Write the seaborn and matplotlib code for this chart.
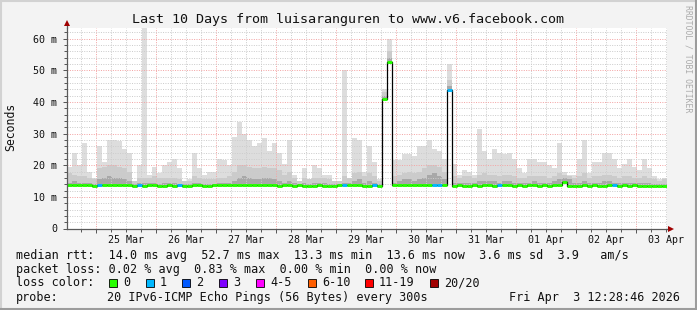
import numpy as np
import pandas as pd
import matplotlib
matplotlib.use("Agg")
import matplotlib.pyplot as plt
import matplotlib.dates as mdates
from matplotlib.ticker import MultipleLocator, FuncFormatter, NullFormatter
from matplotlib.patches import Rectangle
from matplotlib.lines import Line2D
import seaborn as sns

# ---------------- data (2-hour bins) ----------------
start_time = "2026-03-24 12:28:46"
bin_hours = 2

median_rtt = [
    13.8, 13.6, 13.7, 13.6, 13.8, 13.5, 13.9, 13.7, 13.6, 13.8,
    13.7, 13.8, 13.6, 13.5, 13.6, 13.5, 13.6, 13.7, 13.5, 13.5,
    13.6, 13.5, 13.6, 13.5, 13.5, 13.6, 13.6, 13.5, 13.5, 13.6,
    13.6, 13.7, 13.6, 13.8, 13.9, 13.8, 13.7, 13.6, 13.7, 13.6,
    13.6, 13.6, 13.5, 13.6, 13.7, 13.5, 13.6, 13.5, 13.5, 13.5,
    13.6, 13.5, 13.5, 13.5, 13.6, 13.6, 13.7, 13.6, 13.6, 13.5,
    13.5, 13.6, 13.5, 41.0, 52.7, 13.6, 13.6, 13.7, 13.7, 13.6,
    13.7, 13.8, 13.8, 13.9, 13.9, 13.7, 43.7, 13.5, 13.6, 13.5,
    13.5, 13.6, 13.5, 13.7, 13.6, 13.5, 13.6, 13.6, 13.7, 13.5,
    13.6, 13.5, 13.7, 13.6, 13.5, 13.6, 13.5, 13.6, 13.7, 14.8,
    13.4, 13.5, 13.5, 13.6, 13.5, 13.6, 13.5, 13.5, 13.7, 13.6,
    13.5, 13.6, 13.5, 13.6, 13.5, 13.4, 13.5, 13.5, 13.5, 13.4,
]

smoke_max = [
    19.5, 24, 20, 27, 18, 16, 26, 21, 28, 28,
    27.5, 25, 24, 15, 20, 64, 17, 19.5, 17.5, 20,
    21, 22, 19, 15, 15.5, 24, 19, 17, 18, 18,
    22, 21.5, 20, 29, 33.5, 30, 28, 26, 27, 28.5,
    24.5, 27, 24, 20.5, 28, 17, 14.5, 19, 15, 20,
    19, 17, 17, 15, 15, 50, 15.5, 28.5, 28, 18,
    26, 21, 15.5, 44, 60, 21.5, 21.5, 23.5, 23.5, 23,
    26, 26, 28, 25, 24.5, 22, 52, 20.5, 17, 18.5,
    18, 17, 31.4, 24.5, 22, 25, 24, 23.5, 24, 22,
    19, 17.5, 22, 22, 21, 21, 20, 19, 27, 18,
    17, 17, 22, 28, 17.5, 21, 21, 24, 24, 22,
    19, 20.5, 22, 19.5, 18.5, 22, 19, 16.5, 15.5, 16,
]

smoke_mid = [
    17.5, 17, 16.5, 16.5, 16, 15.5, 19, 19.5, 20, 20,
    19.5, 19, 18, 15, 16, 16, 16, 16.5, 16, 16,
    16, 16, 15.5, 15, 15, 16.5, 16, 15.5, 15.5, 15.5,
    16, 16, 16.5, 18, 20, 20, 19.5, 19, 19, 19.5,
    19, 19, 18.5, 17, 18, 16, 15, 16, 15.5, 16,
    16, 16, 15.5, 15, 15, 16.5, 16, 17.5, 18, 16.5,
    17.5, 16.5, 15, 43, 56, 16.5, 17, 17.5, 18, 17.5,
    18, 19, 20, 20, 19.5, 18, 47, 16.5, 16, 16.5,
    16.5, 16, 17, 17.5, 17, 17, 16.5, 17, 17, 16.5,
    16, 16, 16.5, 16.5, 16.5, 16.5, 16, 16.5, 17.5, 17,
    16.5, 16, 16.5, 17.5, 16, 16.5, 16.5, 17, 17, 16.5,
    16, 16.5, 16.5, 16, 16, 16.5, 16, 15.5, 15, 15.5,
]

smoke_low = [
    14.5, 15, 14.5, 14.5, 14.5, 14.2, 15.5, 16, 16.5, 16,
    16, 15.5, 15, 14.2, 14.5, 14.5, 14.5, 14.5, 14.2, 14.5,
    14.5, 14.5, 14.2, 14.2, 14.2, 14.5, 14.5, 14.2, 14.2, 14.2,
    14.5, 14.5, 14.5, 15, 16, 16.5, 16, 15.5, 15.5, 16,
    16, 15.5, 15, 14.5, 15, 14.5, 14.2, 14.5, 14.2, 14.5,
    14.5, 14.5, 14.2, 14.2, 14.2, 14.5, 14.5, 15, 15.5, 14.5,
    15, 14.5, 14.2, 42, 54, 14.5, 15, 15.5, 15.5, 15,
    15.5, 16, 17, 17.5, 16.5, 15.5, 45, 14.5, 14.5, 14.5,
    14.5, 14.5, 15, 15, 15, 15, 14.5, 15, 15, 14.5,
    14.5, 14.5, 14.5, 15, 14.5, 14.5, 14.5, 15, 15.5, 16,
    15.5, 14.5, 14.5, 15, 14.5, 14.5, 14.5, 15, 15, 14.5,
    14.5, 14.5, 14.5, 14.5, 14.5, 14.5, 14.5, 14.2, 14.2, 14.2,
]

lost_pings = [0] * 120
for i in [6, 14, 22, 55, 61, 73, 74, 76, 86, 109]:
    lost_pings[i] = 1

loss_labels = ["0", "1", "2", "3", "4-5", "6-10", "11-19", "20/20"]
loss_colors = ["#26ff00", "#00b8ff", "#0059ff", "#7e00ff", "#ff00ff", "#ff5e00", "#ff0000", "#a10000"]

rtt_avg, rtt_max, rtt_min, rtt_now, rtt_sd, rtt_ams = 14.0, 52.7, 13.3, 13.6, 3.6, 3.9
loss_avg, loss_max, loss_min, loss_now = 0.02, 0.83, 0.00, 0.00

title = "Last 10 Days from luisaranguren to www.v6.facebook.com"
probe_text = "20 IPv6-ICMP Echo Pings (56 Bytes) every 300s"
stamp_text = "Fri Apr  3 12:28:46 2026"

# ---------------- figure ----------------
sns.set_theme(style="white")
plt.rcParams["font.family"] = ["DejaVu Sans Mono", "DejaVu Sans"]
plt.rcParams["lines.scale_dashes"] = False

W, H = 697, 310
fig = plt.figure(figsize=(W / 100, H / 100), dpi=100, facecolor="#f3f3f3")


def fx(px):
    return px / W


def fy(py):
    return 1 - py / H


ax = fig.add_axes([fx(67), fy(228.5), 600 / W, (228.5 - 27.5) / H])
ax.set_facecolor("white")

edges = pd.date_range(pd.Timestamp(start_time), periods=len(median_rtt) + 1, freq=f"{bin_hours}h")
x = mdates.date2num(edges.to_pydatetime())
med = np.asarray(median_rtt, dtype=float)


def stepped(a):
    a = np.asarray(a, dtype=float)
    return np.r_[a, a[-1]]


ax.fill_between(x, stepped(med), stepped(smoke_max), step="post", color="#dddddd", lw=0, zorder=1)
ax.fill_between(x, stepped(med), stepped(smoke_mid), step="post", color="#cbcbcb", lw=0, zorder=1.1)
ax.fill_between(x, stepped(med), stepped(smoke_low), step="post", color="#a8a8a8", lw=0, zorder=1.2)

sns.lineplot(x=x, y=stepped(med), drawstyle="steps-post", color="black", linewidth=0.9,
             estimator=None, sort=False, ax=ax, zorder=4)
seg_colors = [loss_colors[min(l, 7)] for l in lost_pings]
ax.hlines(med, x[:-1], x[1:], colors=seg_colors, linewidth=2.1, zorder=5)

ax.set_xlim(x[0], x[-1])
ax.set_ylim(0, 63.5)
ax.set_xlabel("")
ax.set_ylabel("")

ax.xaxis.set_major_locator(mdates.DayLocator())
ax.xaxis.set_major_formatter(NullFormatter())
ax.xaxis.set_minor_locator(mdates.HourLocator(byhour=[6, 12, 18]))


def xfmt(v, pos):
    d = mdates.num2date(v)
    return d.strftime("%d %b") if d.hour == 12 else ""


ax.xaxis.set_minor_formatter(FuncFormatter(xfmt))
ax.yaxis.set_major_locator(MultipleLocator(10))
ax.yaxis.set_minor_locator(MultipleLocator(2))
ax.yaxis.set_major_formatter(FuncFormatter(lambda v, p: "0" if abs(v) < 1e-9 else f"{v:.0f} m"))

ax.set_axisbelow(False)
dot = (0, (0.72, 1.0))
ax.grid(which="minor", axis="both", color="#cdcdcd", linestyle=dot, linewidth=0.72, zorder=2.5)
ax.grid(which="major", axis="both", color="#f3a6a6", linestyle=dot, linewidth=0.72, zorder=2.6)

ax.tick_params(axis="x", which="minor", labelsize=7.2, pad=3, length=2, width=0.7,
               color="#555555", direction="out", bottom=True, labelcolor="#111111")
ax.tick_params(axis="x", which="major", length=3, width=0.7, color="#555555", direction="out", bottom=True)
ax.tick_params(axis="y", which="major", labelsize=7.2, pad=4, length=3, width=0.7,
               color="#555555", direction="out", left=True, labelcolor="#111111")
ax.tick_params(axis="y", which="minor", length=2, width=0.7, color="#555555", direction="out", left=True)

for s in ["top", "right"]:
    ax.spines[s].set_visible(False)
for s in ["left", "bottom"]:
    ax.spines[s].set_color("#5a5a5a")
    ax.spines[s].set_linewidth(0.9)
    ax.spines[s].set_zorder(6)

# axis arrows
ax.plot([1, 1.006], [0, 0], transform=ax.transAxes, clip_on=False, color="#5a5a5a", lw=0.9)
ax.plot([1.007], [0], marker=">", ms=4.5, mew=0, color="#a00000", transform=ax.transAxes, clip_on=False)
ax.plot([0, 0], [1, 1.015], transform=ax.transAxes, clip_on=False, color="#5a5a5a", lw=0.9)
ax.plot([0], [1.02], marker="^", ms=4.5, mew=0, color="#a00000", transform=ax.transAxes, clip_on=False)

# ---------------- texts ----------------
fig.text(fx(348), fy(19), title, ha="center", va="center", fontsize=9.6, color="#111111")
fig.text(fx(11), fy(127), "Seconds", rotation=90, ha="center", va="center", fontsize=8.3, color="#111111")
fig.text(fx(688), fy(59), "RRDTOOL / TOBI OETIKER", rotation=270, ha="center", va="center",
         fontsize=5.9, color="#ababab")

fs = 8.5
line1 = (f"median rtt:  {rtt_avg:.1f} ms avg  {rtt_max:.1f} ms max  {rtt_min:.1f} ms min  "
         f"{rtt_now:.1f} ms now  {rtt_sd:.1f} ms sd  {rtt_ams:.1f}   am/s")
line2 = (f"packet loss: {loss_avg:.2f} % avg  {loss_max:.2f} % max  {loss_min:.2f} % min  "
         f"{loss_now:.2f} % now")
fig.text(fx(16), fy(255), line1, ha="left", va="center", fontsize=fs, color="#111111")
fig.text(fx(16), fy(269), line2, ha="left", va="center", fontsize=fs, color="#111111")
fig.text(fx(16), fy(283), "loss color:", ha="left", va="center", fontsize=fs, color="#111111")
fig.text(fx(16), fy(297), "probe:", ha="left", va="center", fontsize=fs, color="#111111")
fig.text(fx(107), fy(297), probe_text, ha="left", va="center", fontsize=fs, color="#111111")
fig.text(fx(680), fy(297), stamp_text, ha="right", va="center", fontsize=fs, color="#111111")

box_x = [109, 146, 182, 219, 256, 308, 365, 430]
for bx, lab, col in zip(box_x, loss_labels, loss_colors):
    fig.patches.append(Rectangle((fx(bx), fy(287)), 8 / W, 8 / H, transform=fig.transFigure,
                                 facecolor=col, edgecolor="black", linewidth=0.6))
    fig.text(fx(bx + 14), fy(283), lab, ha="left", va="center", fontsize=fs, color="#111111")

# frame
def fline(x0, y0, x1, y1, c):
    fig.add_artist(Line2D([fx(x0), fx(x1)], [fy(y0), fy(y1)], transform=fig.transFigure,
                          color=c, linewidth=1.5))

fline(0, 0.75, W, 0.75, "#d2d2d2")
fline(0.75, 0, 0.75, H, "#d2d2d2")
fline(0, H - 0.75, W, H - 0.75, "#9c9c9c")
fline(W - 0.75, 0, W - 0.75, H, "#9c9c9c")

fig.savefig("out.png", dpi=100, facecolor=fig.get_facecolor())
